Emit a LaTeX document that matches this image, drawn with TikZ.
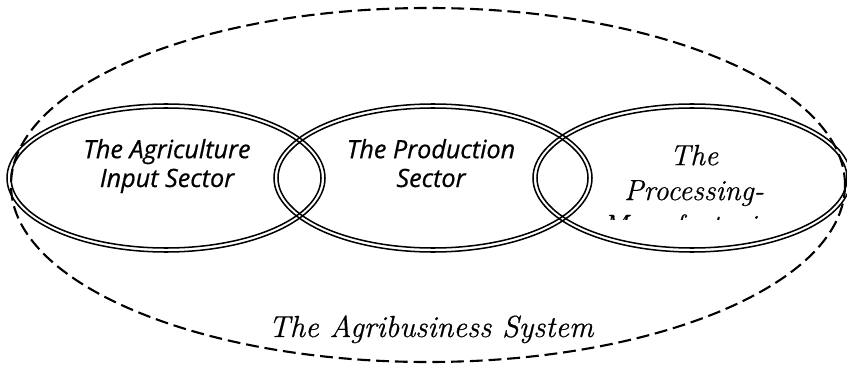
\documentclass[tikz,border=0pt]{standalone}
\usepackage{fontspec}
\newfontfamily\labelfont[FakeBold=0.6]{Open Sans}
\newfontfamily\titlefont[FakeBold=0.5]{Latin Modern Roman}
\begin{document}
\begin{tikzpicture}[x=0.3mm,y=-0.3mm,
  ring/.style={line width=1.3pt},
  sanslabel/.style={font=\labelfont\itshape\fontsize{21.5}{24.6}\selectfont, align=center, anchor=base, inner sep=0pt},
  seriflabel/.style={font=\titlefont\itshape\fontsize{26}{29.8}\selectfont, align=center, anchor=base, inner sep=0pt}]
\useasboundingbox (0,0) rectangle (847,366);

% the whole system
\draw [line width=1.8pt, dash pattern=on 11pt off 5pt] (428,185) ellipse [x radius=417, y radius=177];

% three sectors, drawn as double rings
\foreach \cx in {166,433,692} {
  \draw [ring] (\cx,178) ellipse [x radius=159, y radius=74];
  \draw [ring] (\cx,178) ellipse [x radius=155, y radius=70];
}

% base anchor sits on the last line
\node (input) [sanslabel] at (167,187) {The Agriculture\\Input Sector};
\node (prod) [sanslabel] at (431,187) {The Production\\Sector};
\begin{scope}
  \clip (590,130) rectangle (800,220);
  \node (proc) [seriflabel, font=\titlefont\itshape\fontsize{25}{29.8}\selectfont] at (694,235) {The\\Processing-\\Manufacturing};
\end{scope}
\node (sys) [seriflabel] at (431,337) {The Agribusiness System};
\end{tikzpicture}
\end{document}
